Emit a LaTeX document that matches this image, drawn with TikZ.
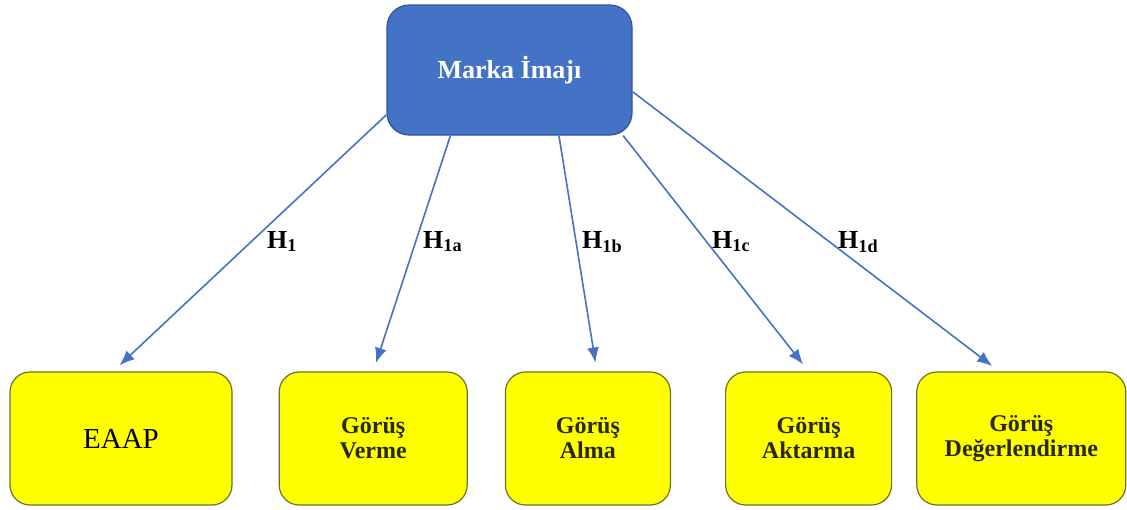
\documentclass[tikz,border=0pt]{standalone}
\usepackage{fontspec}
\setmainfont{Liberation Serif}
\usetikzlibrary{positioning,calc,arrows.meta}
\definecolor{markablue}{RGB}{68,114,196}
\definecolor{markaborder}{RGB}{50,86,150}
\definecolor{boxyellow}{RGB}{255,255,0}
\definecolor{boxborder}{RGB}{105,115,45}
\definecolor{boxtext}{RGB}{40,40,15}

\begin{document}
\begin{tikzpicture}
  [x=1pt,y=-1pt,
  ana/.style={
    rectangle,
    rounded corners=22pt,
    draw=markaborder,
    line width=1.2pt,
    fill=markablue,
    text=white,
    font=\fontsize{26}{30}\selectfont\bfseries,
    minimum width=245pt,
    minimum height=130pt,
    inner sep=0pt
    },
  boyut/.style={
    rectangle,
    rounded corners=20pt,
    draw=boxborder,
    line width=1.2pt,
    fill=boxyellow,
    text=boxtext,
    align=center,
    font=\fontsize{24}{25}\selectfont\bfseries,
    minimum width=#1,
    minimum height=133pt,
    inner sep=0pt
    },
  hipotez/.style={
    anchor=base west,
    inner sep=0pt,
    font=\fontsize{26}{30}\selectfont\bfseries
    },
  ok/.style={
    draw=markablue,
    line width=1.6pt,
    -{Latex[length=15pt,width=12pt]},
    shorten >=9pt
    }
  ]

  \useasboundingbox (0,0) rectangle (1127,509);

  \node [ana] (marka) at (509.5,70) {Marka İmajı};

  % alt kutular
  \node [boyut=222pt, font=\fontsize{29}{30}\selectfont, text=black] (eaap) at (121,438.5) {EAAP};
  \node [boyut=188pt, right=46pt of eaap] (verme) {Görüş\\Verme};
  \node [boyut=165pt, right=37pt of verme] (alma) {Görüş\\Alma};
  \node [boyut=166pt, right=54pt of alma] (aktarma) {Görüş\\Aktarma};
  \node [boyut=209pt, right=24pt of aktarma] (degerlendirme) {Görüş\\Değerlendirme};

  \draw [ok] (marka.200) -- ($(eaap.north)+(-8,0)$);
  \draw [ok] (marka.228) -- (verme.north);
  \draw [ok] (marka.307) -- ($(alma.north)+(9,0)$);
  \draw [ok] (marka.330) -- (aktarma.north);
  \draw [ok] (marka.350) -- ($(degerlendirme.north)+(-22,0)$);

  % hipotez etiketleri
  \node [hipotez] (h1) at (267,248) {H\textsubscript{1}};
  \node [hipotez] (h1a) at (423,248) {H\textsubscript{1a}};
  \node [hipotez] (h1b) at (582,248) {H\textsubscript{1b}};
  \node [hipotez] (h1c) at (712,248) {H\textsubscript{1c}};
  \node [hipotez] (h1d) at (838,248) {H\textsubscript{1d}};
\end{tikzpicture}
\end{document}
